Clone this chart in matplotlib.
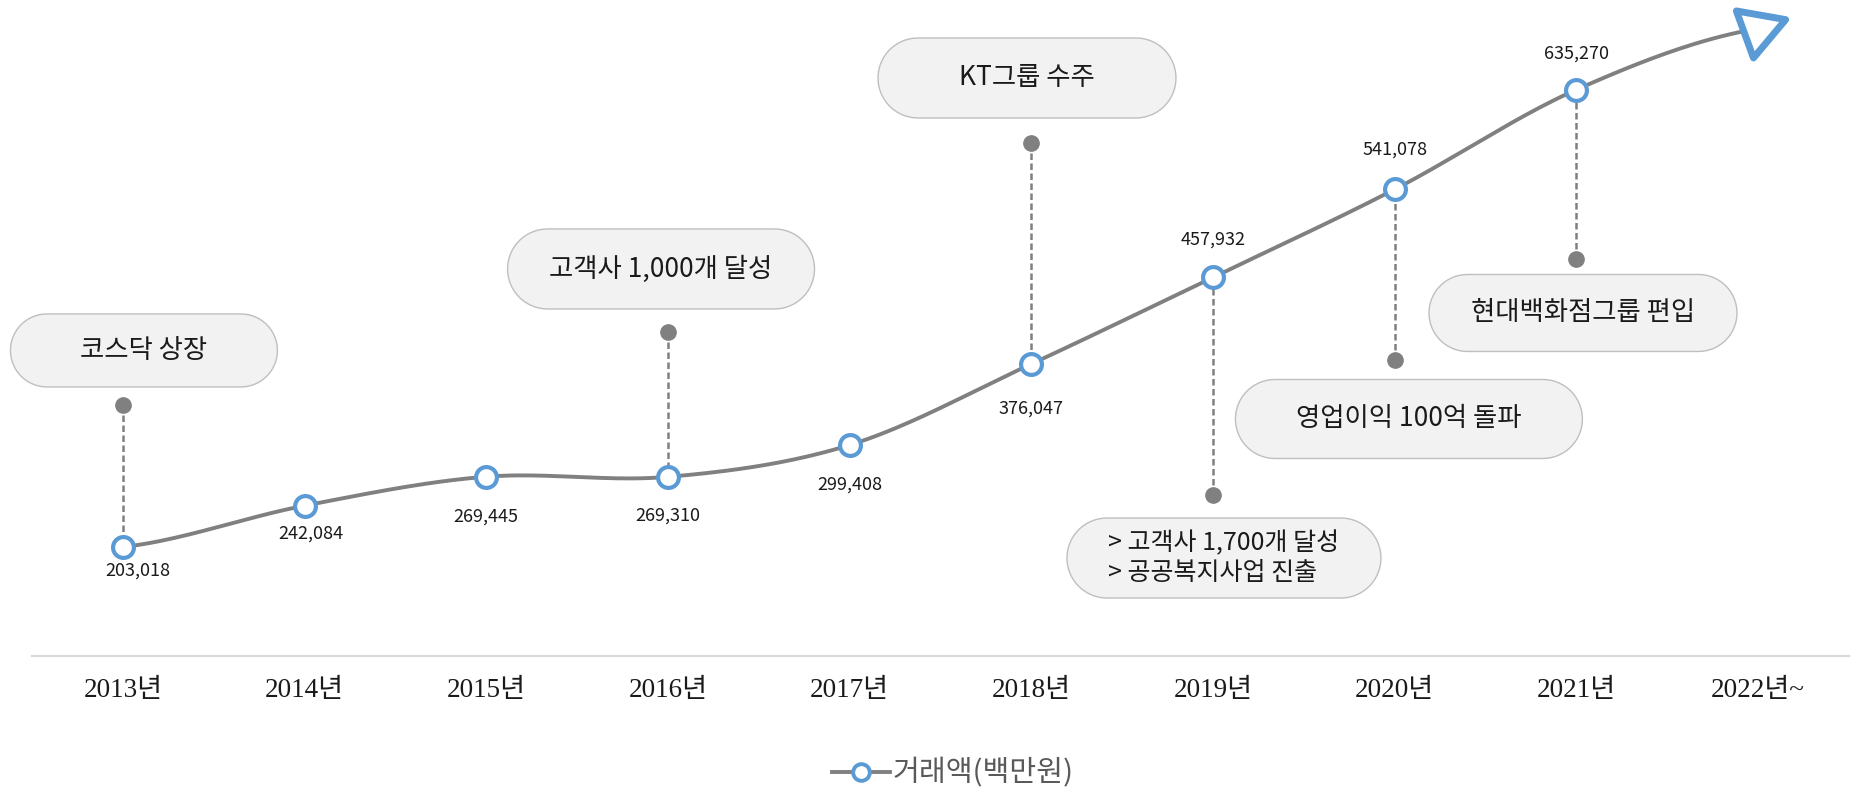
import numpy as np
import matplotlib
matplotlib.use("Agg")
import matplotlib.pyplot as plt
from matplotlib import transforms
from matplotlib.lines import Line2D
from matplotlib.patches import PathPatch
from matplotlib.path import Path

plt.rcParams['font.family'] = ['Noto Sans CJK KR', 'DejaVu Sans']

# --- data ---
years = ["2013년", "2014년", "2015년", "2016년", "2017년",
         "2018년", "2019년", "2020년", "2021년", "2022년~"]
amounts = [203018, 242084, 269445, 269310, 299408,
           376047, 457932, 541078, 635270]
trend_end = 693000  # where the arrow head sits at 2022~

events = ["코스닥 상장", "고객사 1,000개 달성", "KT그룹 수주",
          "> 고객사 1,700개 달성\n> 공공복지사업 진출",
          "영업이익 100억 돌파", "현대백화점그룹 편입"]
event_year = [0, 3, 5, 6, 7, 8]

# --- layout (data coords for anchors, pixels for sizes) ---
event_pin = [337000, 406000, 585000, 252000, 380000, 475000]
event_box = [(0.116, 388800), (2.962, 465800), (4.976, 646300),
             (6.06, 192600), (7.078, 324000), (8.036, 424200)]
event_box_px = [(267, 73), (307, 80), (298, 80), (314, 80), (347, 79), (308, 77)]
label_off_px = [(15, -24), (6, -28), (0, -40), (0, -39), (0, -40), (0, -45),
                (0, 38), (0, 40), (0, 36)]

GRAY = "#808080"
BLUE = "#5B9BD5"


def smooth(y, n=40):
    # Catmull-Rom through the points (what Excel's "smoothed line" does)
    y = np.asarray(y, float)
    p = np.concatenate([[y[0]], y, [y[-1]]])
    xs, ys = [], []
    t = np.linspace(0, 1, n)
    for i in range(len(y) - 1):
        p0, p1, p2, p3 = p[i:i + 4]
        seg = 0.5 * ((2 * p1) + (-p0 + p2) * t
                     + (2 * p0 - 5 * p1 + 4 * p2 - p3) * t ** 2
                     + (-p0 + 3 * p1 - 3 * p2 + p3) * t ** 3)
        xs.append(i + t)
        ys.append(seg)
    return np.concatenate(xs), np.concatenate(ys)


def pill(w, h, n=30):
    r = h / 2
    a = np.linspace(-np.pi / 2, np.pi / 2, n)
    right = np.column_stack([w / 2 - r + r * np.cos(a), r * np.sin(a)])
    b = np.linspace(np.pi / 2, 3 * np.pi / 2, n)
    left = np.column_stack([-w / 2 + r + r * np.cos(b), r * np.sin(b)])
    verts = np.vstack([right, left, right[:1]])
    codes = [Path.MOVETO] + [Path.LINETO] * (len(verts) - 2) + [Path.CLOSEPOLY]
    return Path(verts, codes)


fig = plt.figure(figsize=(18.57, 7.96), dpi=100)
ax = fig.add_axes([32 / 1857, 140 / 796, 1817 / 1857, 656 / 796])
ax.set_xlim(-0.5, 9.5)
ax.set_ylim(100000, 720000)

# trend line incl. the arrow point
series = amounts + [trend_end]
sx, sy = smooth(series)
ax.plot(sx, sy, color=GRAY, lw=2.8, zorder=3, solid_capstyle="round")

idx = np.arange(len(amounts))
ax.plot(idx, amounts, "o", ms=15, mfc="white", mec=BLUE, mew=3.0, zorder=5)

# open triangle arrow head, tilted a bit
ang = np.deg2rad(-10)
rot = np.array([[np.cos(ang), -np.sin(ang)], [np.sin(ang), np.cos(ang)]])
tri = np.array([[-1, 0.577], [1, 0.577], [0, -1.155], [-1, 0.577]]) @ rot.T
tri_path = Path(tri, [Path.MOVETO, Path.LINETO, Path.LINETO, Path.CLOSEPOLY])
ax.plot([len(amounts)], [trend_end], marker=tri_path, ms=41, mfc="white",
        mec=BLUE, mew=5, zorder=5, linestyle="none", clip_on=False)

# value labels
for i, v in enumerate(amounts):
    dx, dy = label_off_px[i]
    ax.annotate(f"{v:,}", (i, v), xytext=(dx, dy), textcoords="offset pixels",
                ha="center", va="center", fontsize=13, color="#1a1a1a", zorder=6)

# milestones
for k, txt in enumerate(events):
    i = event_year[k]
    ax.plot([i, i], [event_pin[k], amounts[i]], color=GRAY, lw=1.8,
            linestyle=(0, (2.6, 1.4)), zorder=2)
    ax.plot(i, event_pin[k], "o", ms=11, color=GRAY, zorder=4)

    bx, by = event_box[k]
    w, h = event_box_px[k][0] / 100, event_box_px[k][1] / 100
    trans = fig.dpi_scale_trans + transforms.ScaledTranslation(bx, by, ax.transData)
    ax.add_patch(PathPatch(pill(w, h), fc="#F2F2F2", ec="#BFBFBF", lw=1.0,
                           transform=trans, zorder=4, clip_on=False))
    two_lines = "\n" in txt
    ax.text(bx, by, txt, ha="center", va="center", multialignment="left",
            fontsize=18 if two_lines else 19, linespacing=1.2,
            color="#1a1a1a", zorder=5)

# axes cosmetics
for s in ["top", "left", "right"]:
    ax.spines[s].set_visible(False)
ax.spines["bottom"].set_color("#D9D9D9")
ax.spines["bottom"].set_linewidth(1.6)
ax.set_yticks([])
ax.set_xticks(range(len(years)))
ax.set_xticklabels(years, fontsize=19.5, color="#1a1a1a",
                   fontfamily=["Liberation Serif", "Noto Sans CJK KR"])
ax.tick_params(axis="x", length=0, pad=16)

handle = Line2D([], [], color=GRAY, lw=2.8, marker="o", ms=12,
                mfc="white", mec=BLUE, mew=2.8)
fig.legend([handle], ["거래액(백만원)"], loc="center",
           bbox_to_anchor=(0.513, 0.028), frameon=False, fontsize=21,
           labelcolor="#595959", handlelength=2.0, handletextpad=0.1)

fig.savefig("out.png", dpi=100)
